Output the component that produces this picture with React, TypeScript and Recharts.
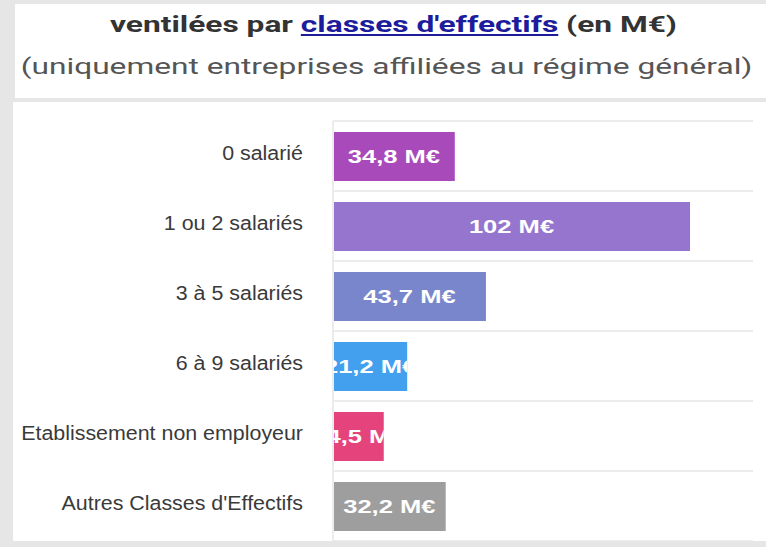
import React from "react"
import { BarChart, Bar, XAxis, YAxis, CartesianGrid, Cell, LabelList } from "recharts"

const categories = [
  "0 salarié",
  "1 ou 2 salariés",
  "3 à 5 salariés",
  "6 à 9 salariés",
  "Etablissement non employeur",
  "Autres Classes d'Effectifs",
]
const amounts = [34.8, 102, 43.7, 21.2, 14.5, 32.2]
const barColors = ["#a94abb", "#9575cd", "#7986cb", "#42a0ef", "#e5437b", "#9e9e9e"]

const data = categories.map((name, i) => ({ name, value: amounts[i] }))

const formatValue = (v: number) => String(v).replace(".", ",") + " M€"

const CategoryTick = (props: any) => {
  const { x, y, payload } = props
  return (
    <text
      transform={`translate(${x},${y - 3}) scale(1.07,1)`}
      textAnchor="end"
      dominantBaseline="central"
      fill="#3a3a3a"
      fontFamily="'Liberation Sans', Arial, sans-serif"
      fontSize={20}
    >
      {payload.value}
    </text>
  )
}

// value label centred in the bar, clipped to the bar like the original
const BarValueLabel = (props: any) => {
  const { x, y, width, height, value, index } = props
  const id = `bar-clip-${index}`
  const cx = x + width / 2
  const cy = y + height / 2
  return (
    <g>
      <defs>
        <clipPath id={id}>
          <rect x={x} y={y} width={width} height={height} />
        </clipPath>
      </defs>
      <g clipPath={`url(#${id})`}>
        <text
          transform={`translate(${cx},${cy}) scale(1.42,1)`}
          textAnchor="middle"
          dominantBaseline="central"
          fill="#fff"
          fontFamily="'Liberation Sans', Arial, sans-serif"
          fontWeight="bold"
          fontSize={18}
        >
          {formatValue(value)}
        </text>
      </g>
    </g>
  )
}

const bandLines = ({ offset }: any) => {
  const n = categories.length
  const step = offset.height / n
  return categories.map((_, i) => offset.top + i * step).concat(offset.top + offset.height)
}

const titleLine: React.CSSProperties = {
  position: "absolute",
  left: 0,
  width: 751,
  transform: "scaleX(1.44)",
  transformOrigin: "center",
  whiteSpace: "nowrap",
}

export default function App() {
  return (
    <div
      style={{
        position: "absolute",
        left: 0,
        top: 0,
        width: 766,
        height: 547,
        background: "#e6e6e6",
        overflow: "hidden",
      }}
    >
      <div
        style={{
          position: "absolute",
          left: 15,
          top: 4,
          width: 760,
          height: 94,
          background: "#fff",
          fontFamily: "Roboto, sans-serif",
          fontSize: 22,
          textAlign: "center",
        }}
      >
        <div style={{ ...titleLine, left: 3, top: 8, fontWeight: "bold", color: "#333" }}>
          ventilées par{" "}
          <span style={{ color: "#1c1c9c", textDecoration: "underline" }}>classes d'effectifs</span> (en M€)
        </div>
        <div style={{ ...titleLine, left: -4, top: 50, color: "#555" }}>
          (uniquement entreprises affiliées au régime général)
        </div>
      </div>
      <div style={{ position: "absolute", left: 13, top: 102, width: 760, height: 439, background: "#fff" }}>
        <BarChart
          width={753}
          height={439}
          data={data}
          layout="vertical"
          margin={{ top: 19, right: 13, left: 0, bottom: 0 }}
          barSize={49}
        >
          <CartesianGrid
            vertical={false}
            stroke="#ececec"
            strokeWidth={2}
            horizontalCoordinatesGenerator={bandLines}
          />
          <XAxis type="number" domain={[0, 120]} hide />
          <YAxis
            type="category"
            dataKey="name"
            width={320}
            axisLine={{ stroke: "#ececec", strokeWidth: 2 }}
            tickLine={false}
            tickSize={0}
            tickMargin={30}
            tick={<CategoryTick />}
            interval={0}
          />
          <Bar dataKey="value" isAnimationActive={false}>
            {data.map((d, i) => (
              <Cell key={d.name} fill={barColors[i]} />
            ))}
            <LabelList dataKey="value" content={<BarValueLabel />} />
          </Bar>
        </BarChart>
      </div>
    </div>
  )
}
